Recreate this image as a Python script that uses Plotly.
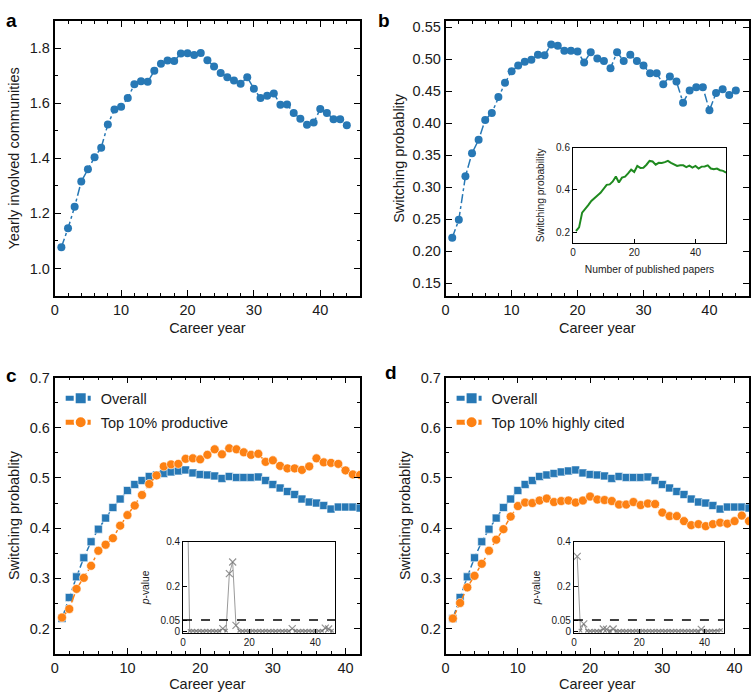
import plotly.graph_objects as go

# ---------------- data ----------------
years_a = list(range(1, 45))
communities = [1.077, 1.146, 1.224, 1.316, 1.360, 1.404, 1.439, 1.523, 1.578, 1.588,
               1.619, 1.669, 1.680, 1.678, 1.718, 1.744, 1.756, 1.754, 1.781, 1.782,
               1.776, 1.783, 1.757, 1.734, 1.710, 1.695, 1.683, 1.671, 1.695, 1.653,
               1.619, 1.628, 1.636, 1.595, 1.596, 1.565, 1.544, 1.522, 1.530, 1.579,
               1.565, 1.542, 1.542, 1.520]

years_b = list(range(1, 45))
switch_b = [0.221, 0.249, 0.317, 0.353, 0.374, 0.405, 0.416, 0.441, 0.463, 0.481,
            0.490, 0.496, 0.499, 0.507, 0.506, 0.523, 0.521, 0.513, 0.513, 0.512,
            0.495, 0.511, 0.501, 0.497, 0.486, 0.511, 0.497, 0.507, 0.497, 0.490,
            0.478, 0.478, 0.461, 0.473, 0.465, 0.432, 0.451, 0.456, 0.456, 0.420,
            0.447, 0.453, 0.444, 0.451]

papers = list(range(1, 51))
switch_papers = [0.206, 0.223, 0.293, 0.308, 0.328, 0.348, 0.359, 0.374, 0.386, 0.405,
                 0.424, 0.426, 0.440, 0.463, 0.435, 0.458, 0.463, 0.478, 0.496, 0.485,
                 0.513, 0.504, 0.505, 0.519, 0.537, 0.534, 0.519, 0.528, 0.527, 0.531,
                 0.537, 0.528, 0.519, 0.513, 0.516, 0.516, 0.508, 0.515, 0.505, 0.513,
                 0.501, 0.510, 0.511, 0.516, 0.501, 0.498, 0.501, 0.493, 0.490, 0.482]

years_cd = list(range(1, 43))
overall = [0.220, 0.262, 0.303, 0.341, 0.373, 0.398, 0.420, 0.441, 0.458, 0.475,
           0.487, 0.495, 0.503, 0.506, 0.509, 0.512, 0.514, 0.516, 0.510, 0.507,
           0.506, 0.504, 0.499, 0.503, 0.501, 0.501, 0.501, 0.502, 0.495, 0.487,
           0.480, 0.473, 0.467, 0.458, 0.452, 0.450, 0.445, 0.438, 0.442, 0.442,
           0.442, 0.440]
top_productive = [0.222, 0.239, 0.279, 0.301, 0.325, 0.355, 0.367, 0.380, 0.405, 0.426,
                  0.445, 0.466, 0.488, 0.505, 0.523, 0.527, 0.528, 0.538, 0.539, 0.537,
                  0.546, 0.557, 0.547, 0.559, 0.557, 0.551, 0.546, 0.548, 0.532, 0.535,
                  0.524, 0.519, 0.519, 0.516, 0.523, 0.539, 0.531, 0.530, 0.528, 0.515,
                  0.507, 0.506]
top_cited = [0.220, 0.251, 0.282, 0.305, 0.329, 0.355, 0.377, 0.398, 0.423, 0.444,
             0.451, 0.450, 0.455, 0.459, 0.452, 0.454, 0.455, 0.451, 0.455, 0.463,
             0.457, 0.456, 0.454, 0.447, 0.447, 0.452, 0.446, 0.449, 0.448, 0.431,
             0.424, 0.424, 0.414, 0.406, 0.408, 0.404, 0.408, 0.411, 0.409, 0.414,
             0.425, 0.414]

years_p = list(range(1, 46))
pval_productive = [0.900, 0.001, 0.002, 0.001, 0.002, 0.001, 0.002, 0.001, 0.002, 0.001,
                   0.002, 0.012, 0.003, 0.257, 0.309, 0.026, 0.002, 0.001, 0.002, 0.001,
                   0.002, 0.001, 0.002, 0.001, 0.002, 0.001, 0.002, 0.001, 0.002, 0.001,
                   0.002, 0.001, 0.012, 0.002, 0.001, 0.002, 0.001, 0.002, 0.001, 0.002,
                   0.001, 0.002, 0.014, 0.010, 0.002]
pval_cited = [0.334, 0.003, 0.033, 0.002, 0.001, 0.002, 0.001, 0.002, 0.010, 0.008,
              0.002, 0.010, 0.002, 0.001, 0.002, 0.001, 0.002, 0.001, 0.002, 0.001,
              0.002, 0.001, 0.002, 0.001, 0.002, 0.001, 0.002, 0.001, 0.002, 0.001,
              0.002, 0.001, 0.002, 0.001, 0.002, 0.001, 0.002, 0.001, 0.008, 0.002,
              0.001, 0.002, 0.001, 0.002, 0.005]

# ---------------- styles ----------------
BLUE = "#2778b5"
ORANGE = "#fd8113"
GREEN = "#1f8a1f"
GREY = "#666666"
FONT = "Liberation Sans, Arial, Helvetica, sans-serif"
W, H = 751, 696
MAIN_YTITLE = "Switching probablity"


def px_dom_x(a, b):
    return [a / W, b / W]


def px_dom_y(top, bottom):
    return [1 - bottom / H, 1 - top / H]


def main_axis(anchor, dom, rng, dtick, minor_dtick, fmt, title=None, standoff=6):
    d = dict(anchor=anchor, domain=dom, range=rng, showline=True, linecolor="black",
             linewidth=1.8, mirror="ticks", ticks="inside", ticklen=6, tickwidth=1.2,
             tickcolor="black", showgrid=False, zeroline=False, dtick=dtick, tick0=0,
             tickfont=dict(size=14.5, color="#1a1a1a", family=FONT), tickformat=fmt)
    if minor_dtick:
        d["minor"] = dict(ticks="inside", ticklen=3, tickwidth=1, tickcolor="black",
                          dtick=minor_dtick, showgrid=False)
    if title:
        d["title"] = dict(text=title, font=dict(size=14.5, color="#1a1a1a", family=FONT),
                          standoff=standoff)
    return d


def inset_axis(anchor, dom, rng, tickvals, ticktext=None, title=None, standoff=4):
    d = dict(anchor=anchor, domain=dom, range=rng, showline=True, linecolor="black",
             linewidth=1, mirror=True, ticks="inside", ticklen=4, tickwidth=1,
             tickcolor="black", showgrid=False, zeroline=False, tickvals=tickvals,
             tickfont=dict(size=10, color="#1a1a1a", family=FONT))
    if ticktext:
        d["ticktext"] = ticktext
    if title:
        d["title"] = dict(text=title, font=dict(size=10.3, color="#1a1a1a", family=FONT),
                          standoff=standoff)
    return d


fig = go.Figure()

# panel a
fig.add_trace(go.Scatter(x=years_a, y=communities, mode="lines+markers",
                         line=dict(color=BLUE, width=1.5, dash="dashdot"),
                         marker=dict(color=BLUE, size=8, symbol="circle"),
                         xaxis="x", yaxis="y", showlegend=False))
# panel b
fig.add_trace(go.Scatter(x=years_b, y=switch_b, mode="lines+markers",
                         line=dict(color=BLUE, width=1.5, dash="dashdot"),
                         marker=dict(color=BLUE, size=8, symbol="circle"),
                         xaxis="x2", yaxis="y2", showlegend=False))
# panel b inset
fig.add_trace(go.Scatter(x=papers, y=switch_papers, mode="lines",
                         line=dict(color=GREEN, width=2),
                         xaxis="x3", yaxis="y3", showlegend=False))

# panel c
fig.add_trace(go.Scatter(x=years_cd, y=overall, mode="lines+markers", name="Overall",
                         line=dict(color=BLUE, width=1.5, dash="dashdot"),
                         marker=dict(color=BLUE, size=8, symbol="square",
                                     line=dict(color="white", width=0.6)),
                         xaxis="x4", yaxis="y4", legend="legend", legendgroup="c1"))
fig.add_trace(go.Scatter(x=years_cd, y=top_productive, mode="lines+markers",
                         name="Top 10% productive",
                         line=dict(color=ORANGE, width=1.5, dash="dashdot"),
                         marker=dict(color=ORANGE, size=9, symbol="circle",
                                     line=dict(color="white", width=0.6)),
                         xaxis="x4", yaxis="y4", legend="legend", legendgroup="c2"))


def cross_sizes(vals):
    return [7 if v > 0.005 else 3.5 for v in vals]


fig.add_trace(go.Scatter(x=years_p, y=pval_productive, mode="lines+markers",
                         line=dict(color="#9a9a9a", width=1),
                         marker=dict(symbol="x-thin-open", size=cross_sizes(pval_productive),
                                     color=GREY, line=dict(color=GREY, width=1.2)),
                         xaxis="x5", yaxis="y5", showlegend=False, cliponaxis=True))

# panel d
fig.add_trace(go.Scatter(x=years_cd, y=overall, mode="lines+markers", name="Overall",
                         line=dict(color=BLUE, width=1.5, dash="dashdot"),
                         marker=dict(color=BLUE, size=8, symbol="square",
                                     line=dict(color="white", width=0.6)),
                         xaxis="x6", yaxis="y6", legend="legend2", legendgroup="d1"))
fig.add_trace(go.Scatter(x=years_cd, y=top_cited, mode="lines+markers",
                         name="Top 10% highly cited",
                         line=dict(color=ORANGE, width=1.5, dash="dashdot"),
                         marker=dict(color=ORANGE, size=9, symbol="circle",
                                     line=dict(color="white", width=0.6)),
                         xaxis="x6", yaxis="y6", legend="legend2", legendgroup="d2"))
fig.add_trace(go.Scatter(x=years_p, y=pval_cited, mode="lines+markers",
                         line=dict(color="#9a9a9a", width=1),
                         marker=dict(symbol="x-thin-open", size=cross_sizes(pval_cited),
                                     color=GREY, line=dict(color=GREY, width=1.2)),
                         xaxis="x7", yaxis="y7", showlegend=False, cliponaxis=True))

# significance threshold lines
for ax in ("5", "7"):
    fig.add_shape(type="line", xref=f"x{ax} domain", x0=0, x1=1, yref=f"y{ax}",
                  y0=0.05, y1=0.05, line=dict(color="black", width=1.6, dash="dash"))

legend_common = dict(bgcolor="rgba(0,0,0,0)", borderwidth=0,
                     font=dict(size=14.5, color="#1a1a1a", family=FONT),
                     xanchor="left", yanchor="top", tracegroupgap=2,
                     itemsizing="constant")

fig.update_layout(
    width=W, height=H, margin=dict(l=0, r=0, t=0, b=0),
    paper_bgcolor="white", plot_bgcolor="white",
    font=dict(family=FONT, color="#1a1a1a"),
    xaxis=main_axis("y", px_dom_x(51, 358), [0, 46], 10, 2, "d", "Career year"),
    yaxis=main_axis("x", px_dom_y(13, 293), [0.9, 1.9], 0.2, 0.1, ".1f",
                    "Yearly involved communities", standoff=7),
    xaxis2=main_axis("y2", px_dom_x(444, 749), [0, 46], 10, 2, "d", "Career year"),
    yaxis2=main_axis("x2", px_dom_y(13, 293), [0.13, 0.56], 0.05, None, ".2f",
                     MAIN_YTITLE, standoff=5),
    xaxis3=inset_axis("y3", px_dom_x(572, 726), [0, 50], [0, 20, 40],
                      title="Number of published papers", standoff=8),
    yaxis3=inset_axis("x3", px_dom_y(142, 239), [0.15, 0.6], [0.2, 0.4, 0.6],
                      ["0.2", "0.4", "0.6"], title="Switching probability", standoff=9),
    xaxis4=main_axis("y4", px_dom_x(51, 358), [0, 42], 10, 2, "d", "Career year",
                     standoff=4),
    yaxis4=main_axis("x4", px_dom_y(376, 657), [0.15, 0.7], 0.1, 0.05, ".1f",
                     MAIN_YTITLE, standoff=7),
    xaxis5=inset_axis("y5", px_dom_x(180, 333), [0, 46], [0, 20, 40]),
    yaxis5=inset_axis("x5", px_dom_y(543, 636), [-0.008, 0.4], [0, 0.05, 0.2, 0.4],
                      ["0", "0.05", "0.2", "0.4"], title="<i>p</i>-value", standoff=8),
    xaxis6=main_axis("y6", px_dom_x(444, 749), [0, 42], 10, 2, "d", "Career year",
                     standoff=4),
    yaxis6=main_axis("x6", px_dom_y(376, 657), [0.15, 0.7], 0.1, 0.05, ".1f",
                     MAIN_YTITLE, standoff=7),
    xaxis7=inset_axis("y7", px_dom_x(573, 724), [0, 46], [0, 20, 40]),
    yaxis7=inset_axis("x7", px_dom_y(543, 636), [-0.008, 0.4], [0, 0.05, 0.2, 0.4],
                      ["0", "0.05", "0.2", "0.4"], title="<i>p</i>-value", standoff=8),
    legend=dict(x=57 / W, y=1 - 381 / H, **legend_common),
    legend2=dict(x=450 / W, y=1 - 381 / H, **legend_common),
)

for letter, xp, yp in (("a", 0, 0), ("b", 374, 0), ("c", 0, 361), ("d", 381, 358)):
    fig.add_annotation(text=f"<b>{letter}</b>", xref="paper", yref="paper",
                       x=xp / W, y=1 - yp / H, xanchor="left", yanchor="top",
                       showarrow=False, font=dict(size=19, color="black", family=FONT))

# remove the browser's default page margin so the figure sits at the window origin
fig.write_html("out.html", config={"displayModeBar": False},
               post_script="document.body.style.margin='0px';")
